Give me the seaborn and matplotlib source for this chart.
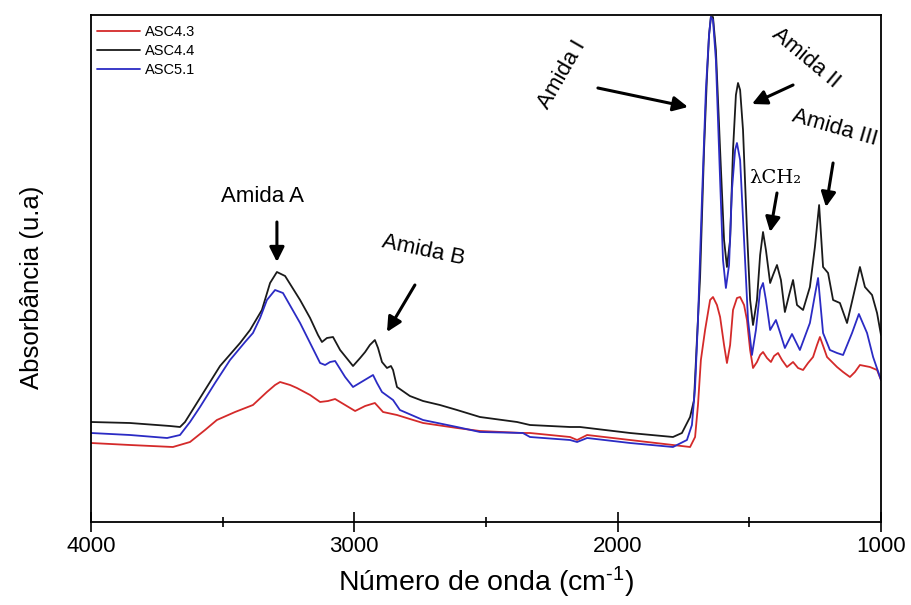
import matplotlib
matplotlib.use("Agg")
import matplotlib.pyplot as plt
from matplotlib.ticker import FixedLocator, NullLocator
import seaborn as sns
import pandas as pd

# ---------------- data ----------------
samples = ["ASC4.3", "ASC4.4", "ASC5.1"]
colors = ["#d42a2a", "#1a1a1a", "#2b2bc4"]

wn_asc44 = [4000, 3852, 3700, 3662, 3643, 3586, 3510, 3434, 3396, 3351, 3320, 3294, 3263, 3206,
            3168, 3138, 3123, 3104, 3081, 3054, 3005, 2978, 2959, 2941, 2922, 2910, 2895, 2876,
            2861, 2853, 2838, 2789, 2739, 2675, 2610, 2523, 2382, 2333, 2181, 2143, 1953, 1790,
            1756, 1725, 1710, 1699, 1687, 1672, 1661, 1653, 1646, 1638, 1627, 1611, 1596, 1585,
            1573, 1562, 1551, 1543, 1535, 1524, 1509, 1497, 1486, 1471, 1459, 1448, 1437, 1421,
            1410, 1395, 1380, 1365, 1349, 1334, 1319, 1296, 1270, 1251, 1235, 1220, 1201, 1182,
            1156, 1129, 1106, 1080, 1061, 1034, 1015, 1000]
abs_asc44 = [0.200, 0.198, 0.192, 0.190, 0.200, 0.248, 0.312, 0.358, 0.384, 0.424, 0.478, 0.500,
             0.492, 0.444, 0.408, 0.374, 0.360, 0.368, 0.370, 0.344, 0.312, 0.328, 0.340, 0.354,
             0.364, 0.348, 0.320, 0.308, 0.312, 0.304, 0.270, 0.252, 0.242, 0.234, 0.224, 0.210,
             0.200, 0.194, 0.190, 0.190, 0.178, 0.170, 0.178, 0.210, 0.244, 0.364, 0.490, 0.744,
             0.890, 0.974, 1.010, 1.010, 0.944, 0.744, 0.564, 0.510, 0.564, 0.744, 0.854, 0.878,
             0.864, 0.784, 0.584, 0.444, 0.394, 0.444, 0.534, 0.580, 0.544, 0.478, 0.494, 0.514,
             0.484, 0.420, 0.454, 0.484, 0.434, 0.424, 0.470, 0.550, 0.634, 0.510, 0.498, 0.444,
             0.438, 0.398, 0.450, 0.510, 0.470, 0.454, 0.418, 0.374]

wn_asc51 = [4000, 3852, 3711, 3662, 3624, 3586, 3529, 3472, 3415, 3385, 3358, 3332, 3301, 3271,
            3206, 3168, 3130, 3111, 3092, 3073, 3035, 3005, 2967, 2929, 2914, 2895, 2853, 2827,
            2739, 2610, 2523, 2360, 2333, 2181, 2154, 2116, 1953, 1790, 1737, 1718, 1706, 1695,
            1680, 1665, 1653, 1646, 1638, 1627, 1611, 1600, 1589, 1577, 1566, 1554, 1547, 1535,
            1520, 1505, 1490, 1475, 1459, 1448, 1437, 1421, 1399, 1384, 1365, 1338, 1308, 1270,
            1251, 1239, 1220, 1194, 1167, 1144, 1110, 1084, 1053, 1030, 1000]
abs_asc51 = [0.178, 0.174, 0.168, 0.174, 0.200, 0.230, 0.278, 0.324, 0.360, 0.378, 0.408, 0.444,
             0.464, 0.458, 0.398, 0.358, 0.318, 0.314, 0.320, 0.322, 0.290, 0.270, 0.282, 0.294,
             0.278, 0.260, 0.244, 0.224, 0.204, 0.190, 0.180, 0.178, 0.170, 0.164, 0.160, 0.168,
             0.158, 0.150, 0.164, 0.194, 0.270, 0.404, 0.644, 0.864, 0.974, 1.010, 1.004, 0.924,
             0.684, 0.524, 0.468, 0.514, 0.664, 0.744, 0.758, 0.724, 0.564, 0.404, 0.334, 0.384,
             0.464, 0.478, 0.444, 0.384, 0.404, 0.380, 0.348, 0.376, 0.344, 0.398, 0.454, 0.488,
             0.378, 0.344, 0.338, 0.334, 0.378, 0.416, 0.378, 0.330, 0.284]

wn_asc43 = [4000, 3852, 3689, 3624, 3567, 3522, 3453, 3385, 3332, 3301, 3282, 3244, 3218, 3168,
            3130, 3100, 3073, 3035, 2997, 2959, 2922, 2891, 2838, 2789, 2739, 2610, 2523, 2360,
            2333, 2181, 2154, 2116, 1953, 1790, 1725, 1706, 1695, 1684, 1668, 1649, 1638, 1623,
            1611, 1596, 1585, 1573, 1562, 1547, 1535, 1520, 1509, 1497, 1486, 1471, 1459, 1448,
            1433, 1418, 1406, 1391, 1376, 1357, 1334, 1315, 1296, 1277, 1258, 1243, 1232, 1217,
            1205, 1186, 1167, 1144, 1118, 1099, 1080, 1061, 1042, 1015, 1000]
abs_asc43 = [0.158, 0.154, 0.150, 0.160, 0.184, 0.204, 0.220, 0.234, 0.260, 0.274, 0.280, 0.274,
             0.268, 0.254, 0.240, 0.242, 0.246, 0.234, 0.222, 0.232, 0.238, 0.220, 0.214, 0.206,
             0.198, 0.188, 0.182, 0.178, 0.178, 0.170, 0.164, 0.174, 0.164, 0.154, 0.150, 0.170,
             0.234, 0.324, 0.384, 0.444, 0.450, 0.434, 0.410, 0.354, 0.318, 0.354, 0.424, 0.448,
             0.450, 0.434, 0.404, 0.344, 0.308, 0.320, 0.334, 0.340, 0.328, 0.320, 0.332, 0.338,
             0.324, 0.310, 0.320, 0.308, 0.304, 0.318, 0.330, 0.354, 0.370, 0.348, 0.330, 0.320,
             0.310, 0.300, 0.290, 0.300, 0.314, 0.312, 0.310, 0.304, 0.284]

x_ticks_major = [4000, 3000, 2000, 1000]
x_ticks_minor = [3500, 2500, 1500]

# ---------------- build long-form table ----------------
frames = []
for name, wn, ab in [("ASC4.3", wn_asc43, abs_asc43),
                     ("ASC4.4", wn_asc44, abs_asc44),
                     ("ASC5.1", wn_asc51, abs_asc51)]:
    frames.append(pd.DataFrame({"wn": wn, "abs": ab, "Amostra": name}))
df = pd.concat(frames, ignore_index=True)

# ---------------- plot ----------------
sns.set_style("ticks")
plt.rcParams["font.family"] = ["Liberation Sans", "DejaVu Sans"]
plt.rcParams["mathtext.fontset"] = "custom"
plt.rcParams["mathtext.rm"] = "Liberation Sans"
plt.rcParams["mathtext.it"] = "Liberation Sans"
plt.rcParams["mathtext.default"] = "regular"
plt.rcParams["text.color"] = "black"
plt.rcParams["axes.labelcolor"] = "black"

fig = plt.figure(figsize=(9.11, 6.05), dpi=100)
ax = fig.add_axes([91 / 911, 1 - 522 / 605, 790 / 911, 507 / 605])

sns.lineplot(data=df, x="wn", y="abs", hue="Amostra", hue_order=samples,
             palette=dict(zip(samples, colors)), estimator=None, sort=True,
             linewidth=1.3, ax=ax)

ax.set_xlim(4000, 1000)
ax.set_ylim(0, 1.014)
ax.xaxis.set_major_locator(FixedLocator(x_ticks_major))
ax.xaxis.set_minor_locator(FixedLocator(x_ticks_minor))
ax.yaxis.set_major_locator(NullLocator())
ax.set_xticklabels([str(t) for t in x_ticks_major])
ax.tick_params(axis="x", which="major", direction="inout", length=14, width=1.2,
               labelsize=16, pad=3, colors="black", labelcolor="black")
ax.tick_params(axis="x", which="minor", direction="inout", length=7, width=1.2,
               colors="black")
for s in ax.spines.values():
    s.set_visible(True)
    s.set_color("black")
    s.set_linewidth(1.3)

ax.set_xlabel(r"Número de onda (cm$^{\text{-}1}$)", fontsize=20.5, labelpad=6,
              color="black")
ax.set_ylabel("Absorbância (u.a)", fontsize=18.5, color="black")
ax.yaxis.set_label_coords(-0.06, 0.463)

leg = ax.legend(loc="upper left", frameon=False, fontsize=10.5, handlelength=3.0,
                handletextpad=0.35, labelspacing=0.35, borderaxespad=0.2,
                bbox_to_anchor=(-0.004, 0.997))
for line in leg.get_lines():
    line.set_linewidth(1.3)
for t in leg.get_texts():
    t.set_color("black")

arrow = dict(arrowstyle="-|>", color="black", lw=2.2, mutation_scale=22,
             shrinkA=0, shrinkB=0)
txt = dict(fontsize=16, color="black", ha="center", va="center")

ax.text(3347, 0.650, "Amida A", **txt)
ax.annotate("", xy=(3294, 0.520), xytext=(3294, 0.600), arrowprops=arrow)

ax.text(2739, 0.544, "Amida B", rotation=-12, rotation_mode="anchor", **txt)
ax.annotate("", xy=(2876, 0.380), xytext=(2770, 0.474), arrowprops=arrow)

ax.text(2211, 0.895, "Amida I", rotation=60, rotation_mode="anchor", **txt)
ax.annotate("", xy=(1733, 0.830), xytext=(2075, 0.868), arrowprops=arrow)

ax.text(1285, 0.928, "Amida II", rotation=-40, rotation_mode="anchor", **txt)
ax.annotate("", xy=(1490, 0.836), xytext=(1334, 0.874), arrowprops=arrow)

ax.text(1175, 0.788, "Amida III", rotation=-16, rotation_mode="anchor", clip_on=False, **txt)
ax.annotate("", xy=(1209, 0.630), xytext=(1182, 0.718), arrowprops=arrow)

ax.text(1403, 0.688, "λCH₂", fontsize=14, color="black", ha="center", va="center",
        family=["DejaVu Serif"])
ax.annotate("", xy=(1421, 0.580), xytext=(1395, 0.658), arrowprops=arrow)

fig.savefig("out.png", dpi=100)
